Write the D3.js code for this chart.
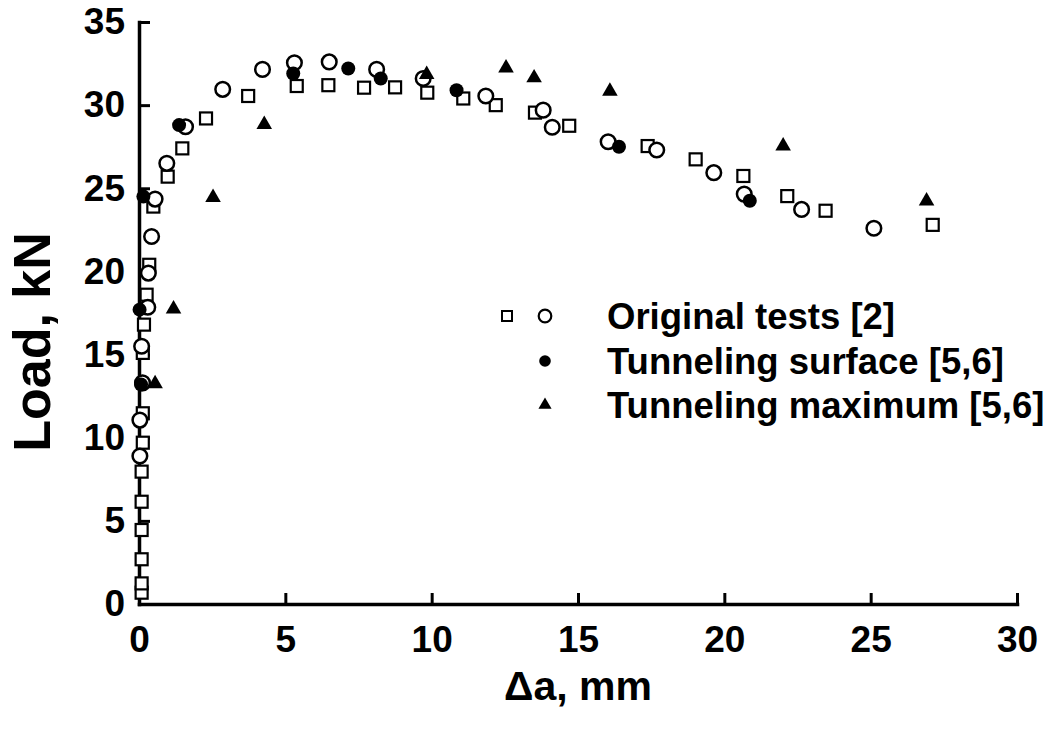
<!DOCTYPE html>
<html><head><meta charset="utf-8">
<script src="https://cdn.jsdelivr.net/npm/d3@7"></script>
<style>body{margin:0;background:#fff}svg{display:block}text{font-family:"Liberation Sans",Arial,sans-serif;font-weight:bold;fill:#000}</style>
</head><body>
<svg id="c" width="1052" height="732"></svg>
<script>
const xTicks = [0,5,10,15,20,25,30];
const yTicks = [0,5,10,15,20,25,30,35];

const origSqX = [0.09,0.09,0.09,0.09,0.09,0.09,0.13,0.13,0.13,0.17,0.26,0.35,0.49,0.98,1.48,2.29,3.73,5.39,6.47,7.69,8.75,9.85,11.08,12.19,13.53,14.70,17.38,19.02,20.65,22.15,23.46,27.12];
const origSqY = [0.68,1.24,2.69,4.45,6.15,7.96,9.7,11.47,15.1,16.8,18.6,20.4,23.9,25.7,27.4,29.2,30.55,31.15,31.2,31.05,31.07,30.75,30.4,30.0,29.55,28.76,27.54,26.74,25.74,24.53,23.65,22.8];

const origCiX = [0.03,0.03,0.12,0.09,0.30,0.32,0.43,0.55,0.95,1.59,2.86,4.22,5.31,6.50,8.12,9.71,11.85,13.81,14.12,16.03,17.69,19.64,20.68,22.64,25.11];
const origCiY = [8.9,11.06,13.3,15.5,17.85,19.9,22.1,24.35,26.5,28.7,30.95,32.15,32.55,32.6,32.15,31.6,30.55,29.7,28.67,27.8,27.3,25.94,24.65,23.73,22.6];

const surfX = [0.07,0.02,0.15,1.37,5.27,7.15,8.26,10.85,16.40,20.87];
const surfY = [13.2,17.7,24.5,28.8,31.9,32.2,31.6,30.9,27.5,24.25];

const maxX = [0.55,1.18,2.53,4.28,9.83,12.54,13.5,16.09,22.01,26.91];
const maxY = [13.3,17.8,24.5,28.9,31.9,32.3,31.7,30.9,27.6,24.3];

const legendLabels = ["Original tests [2]","Tunneling surface [5,6]","Tunneling maximum [5,6]"];
const xTitle = "Δa, mm";
const yTitle = "Load, kN";

const svg = d3.select("#c");
const x = d3.scaleLinear().domain([0,30]).range([139,1017]);
const y = d3.scaleLinear().domain([0,35]).range([604,22]);

// axes
const xAxis = svg.append("g").attr("transform",`translate(0,${y(0)})`)
  .call(d3.axisBottom(x).tickValues(xTicks).tickSizeInner(-11).tickSizeOuter(0).tickPadding(22).tickFormat(d3.format("d")));
const yAxis = svg.append("g").attr("transform",`translate(${x(0)},0)`)
  .call(d3.axisLeft(y).tickValues(yTicks).tickSizeInner(-11).tickSizeOuter(0).tickPadding(14).tickFormat(d3.format("d")));
[xAxis,yAxis].forEach(g=>{
  g.select(".domain").attr("stroke","#000").attr("stroke-width",3.5).attr("stroke-linecap","square");
  g.selectAll(".tick line").attr("stroke","#000").attr("stroke-width",3);
  g.selectAll(".tick text").style("font-size","37px").style("font-family","'Liberation Sans',Arial,sans-serif").style("font-weight","bold");
});
xAxis.selectAll(".tick text").attr("dy","0.71em");

svg.append("text").attr("x",578).attr("y",700).attr("text-anchor","middle").style("font-size","41px").text(xTitle);
svg.append("text").attr("transform","translate(50,342) rotate(-90)").attr("text-anchor","middle").style("font-size","52px").text(yTitle);

// points
const sq = 12, cr = 7.3;
const plot = svg.append("g");
plot.selectAll("rect.sq").data(d3.zip(origSqX,origSqY)).join("rect").attr("class","sq")
  .attr("x",d=>x(d[0])-sq/2).attr("y",d=>y(d[1])-sq/2).attr("width",sq).attr("height",sq)
  .attr("fill","#fff").attr("stroke","#000").attr("stroke-width",2.2);
plot.selectAll("circle.ci").data(d3.zip(origCiX,origCiY)).join("circle").attr("class","ci")
  .attr("cx",d=>x(d[0])).attr("cy",d=>y(d[1])).attr("r",cr)
  .attr("fill","#fff").attr("stroke","#000").attr("stroke-width",2.5);
plot.selectAll("circle.fi").data(d3.zip(surfX,surfY)).join("circle").attr("class","fi")
  .attr("cx",d=>x(d[0])).attr("cy",d=>y(d[1])).attr("r",7).attr("fill","#000");
const tri = d3.symbol().type(d3.symbolTriangle).size(105);
plot.selectAll("path.tr").data(d3.zip(maxX,maxY)).join("path").attr("class","tr")
  .attr("transform",d=>`translate(${x(d[0])},${y(d[1])+1})`).attr("d",tri).attr("fill","#000");

// legend
const lg = svg.append("g");
lg.append("rect").attr("x",502).attr("y",311).attr("width",10).attr("height",10).attr("fill","#fff").attr("stroke","#000").attr("stroke-width",2);
lg.append("circle").attr("cx",545).attr("cy",316).attr("r",6.3).attr("fill","#fff").attr("stroke","#000").attr("stroke-width",2.2);
lg.append("circle").attr("cx",545).attr("cy",361).attr("r",5.8).attr("fill","#000");
lg.append("path").attr("transform","translate(545,405)").attr("d",d3.symbol().type(d3.symbolTriangle).size(75)).attr("fill","#000");
const ly = [316,361,405];
legendLabels.forEach((t,i)=>{
  lg.append("text").attr("x",607).attr("y",ly[i]).attr("dy","0.36em").style("font-size","36.5px").text(t);
});
</script>
</body></html>
